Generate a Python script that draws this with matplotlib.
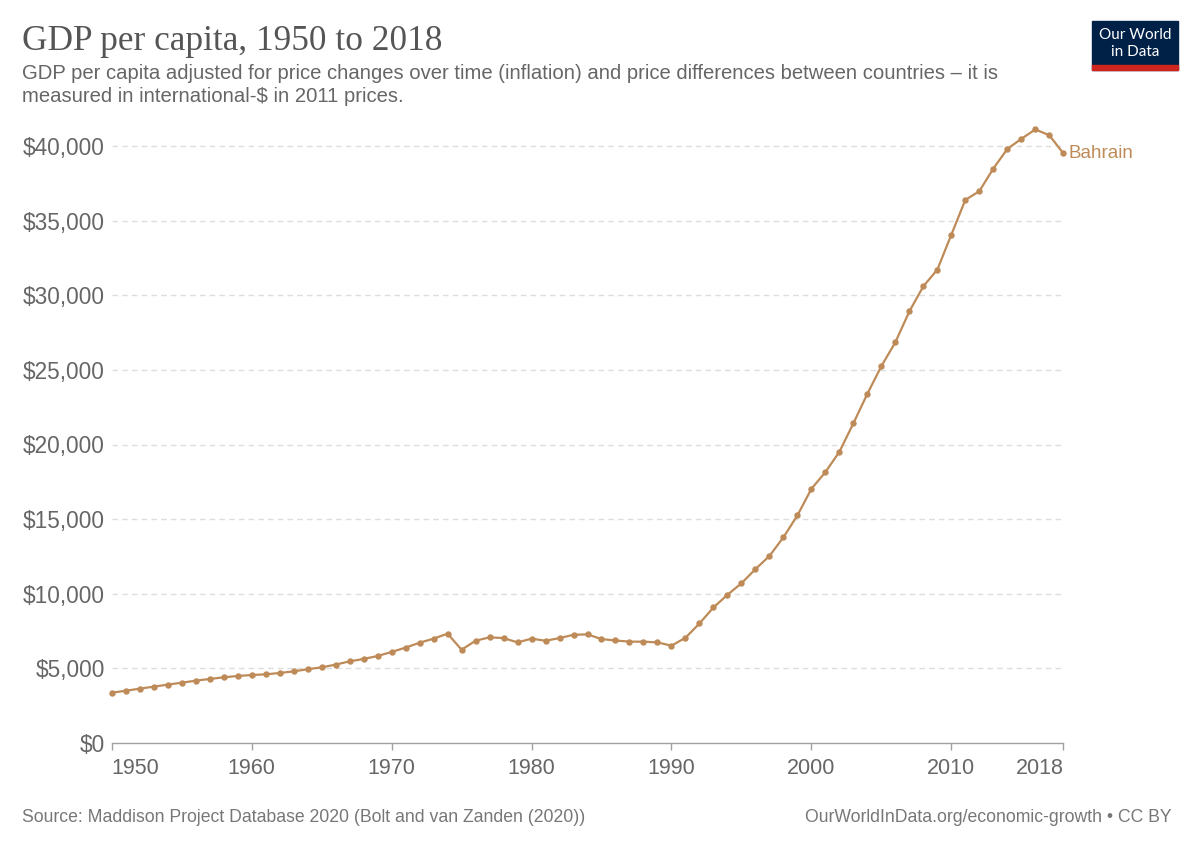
import matplotlib.pyplot as plt
from matplotlib.patches import Rectangle
from matplotlib.ticker import FuncFormatter

# DATA
######

years = list(range(1950, 2019))
gdp_per_capita = [
    3370, 3500, 3640, 3775, 3910, 4040, 4175, 4290, 4400, 4490,
    4555, 4600, 4690, 4800, 4940, 5070, 5250, 5470, 5630, 5830,
    6100, 6390, 6720, 6990, 7330, 6250, 6850, 7080, 7030, 6740,
    6990, 6850, 7030, 7250, 7280, 6960, 6870, 6790, 6790, 6740,
    6520, 7050, 8010, 9080, 9930, 10700, 11650, 12530, 13780, 15250,
    17030, 18150, 19510, 21420, 23400, 25250, 26850, 28920, 30600, 31720,
    34060, 36390, 36970, 38490, 39800, 40480, 41110, 40720, 39510,
]
country = "Bahrain"
x_ticks = [1950, 1960, 1970, 1980, 1990, 2000, 2010, 2018]
y_ticks = [0, 5000, 10000, 15000, 20000, 25000, 30000, 35000, 40000]

LINE_COLOR = "#be8b58"
TEXT_GRAY = "#666666"
W, H = 1200, 848

plt.rcParams['font.family'] = ['Liberation Sans', 'DejaVu Sans']

fig = plt.figure(figsize=(W / 100, H / 100), dpi=100)


def fx(px):
    return px / W


def fy(py):
    return 1 - py / H


# axes placed in pixel terms: 1950 at x=111.7, 2018 at 1063.3, $0 at y=743
ax = fig.add_axes((fx(111.7), fy(743), (1063.3 - 111.7) / W, 626.85 / H))
ax.plot(years, gdp_per_capita, color=LINE_COLOR, linewidth=1.6,
        marker='o', markersize=3.6, clip_on=False, zorder=3)
ax.set_xlim(1950, 2018)
ax.set_ylim(0, 42000)

for side in ('top', 'right', 'left'):
    ax.spines[side].set_visible(False)
ax.spines['bottom'].set_color('#a0a0a0')
ax.spines['bottom'].set_linewidth(1.0)

ax.set_xticks(x_ticks)
ax.set_yticks(y_ticks)
ax.yaxis.set_major_formatter(FuncFormatter(lambda v, p: "${:,.0f}".format(v)))
ax.tick_params(axis='y', length=0, pad=5, labelsize=16.3, labelcolor=TEXT_GRAY)
ax.tick_params(axis='x', length=5, width=1, color='#a0a0a0', pad=6,
               labelsize=15.5, labelcolor=TEXT_GRAY)
labels = ax.get_xticklabels()
labels[0].set_horizontalalignment('left')
labels[-1].set_horizontalalignment('right')

ax.yaxis.grid(True, color='#dddddd', linestyle=(0, (4, 3)), linewidth=1)
ax.xaxis.grid(False)
ax.set_axisbelow(True)
ax.get_ygridlines()[0].set_visible(False)

ax.annotate(country, xy=(years[-1], gdp_per_capita[-1]), xytext=(4, 0),
            textcoords='offset points', va='center', ha='left',
            color=LINE_COLOR, fontsize=13.5, annotation_clip=False)

# title and subtitle
fig.text(fx(22), fy(50), "GDP per capita, 1950 to 2018", fontsize=25.4,
         family=['Liberation Serif', 'DejaVu Serif'], color='#555555',
         va='baseline', ha='left')
fig.text(fx(22), fy(79),
         "GDP per capita adjusted for price changes over time (inflation) and "
         "price differences between countries \u2013 it is",
         fontsize=14.6, color=TEXT_GRAY, va='baseline', ha='left')
fig.text(fx(22), fy(102), "measured in international-$ in 2011 prices.",
         fontsize=14.6, color=TEXT_GRAY, va='baseline', ha='left')

# footer
fig.text(fx(22), fy(822),
         "Source: Maddison Project Database 2020 (Bolt and van Zanden (2020))",
         fontsize=12.7, color='#777777', va='baseline', ha='left')
fig.text(fx(1172), fy(822),
         "OurWorldInData.org/economic-growth \u2022 CC BY",
         fontsize=12.7, color='#777777', va='baseline', ha='right')

# logo
fig.patches.append(Rectangle((fx(1092), fy(70)), (1178 - 1092) / W, 49 / H,
                             transform=fig.transFigure, color='#002147'))
fig.patches.append(Rectangle((fx(1092), fy(70)), (1178 - 1092) / W, 5 / H,
                             transform=fig.transFigure, color='#ce261e'))
fig.text(fx(1135), fy(39), "Our World", fontsize=11, color='white',
         family=['Lato', 'DejaVu Sans'], ha='center', va='baseline')
fig.text(fx(1135), fy(56), "in Data", fontsize=11, color='white',
         family=['Lato', 'DejaVu Sans'], ha='center', va='baseline')

fig.savefig('out.png', dpi=100)
